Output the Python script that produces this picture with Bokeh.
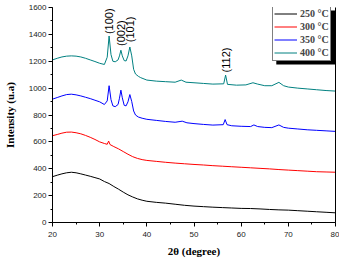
import math
from bokeh.plotting import figure
from bokeh.models import (Range1d, LinearAxis, SingleIntervalTicker, FixedTicker,
                          Legend, LegendItem, BoxAnnotation, ColumnDataSource)
from bokeh.core.properties import value
from bokeh.embed import file_html
from bokeh.resources import INLINE

# ---------------- data ----------------
x_250 = [20, 21, 22, 23, 24, 25, 26, 27, 28, 29, 30, 31, 32, 33, 34, 35, 36, 37, 38, 39,
         40, 42, 44, 46, 48, 50, 52, 54, 56, 58, 60, 62, 64, 66, 68, 70, 72, 74, 76, 78, 80]
y_250 = [341, 352, 362, 370, 374, 370, 362, 353, 344, 334, 324, 305, 290, 268, 248, 226, 206, 190, 176, 166,
         158, 150, 144, 136, 128, 122, 118, 114, 111, 108, 105, 104, 101, 97, 94, 92, 88, 84, 80, 76, 72]

x_300 = [20, 21, 22, 23, 24, 25, 26, 27, 28, 29, 30, 31, 31.6, 31.9, 32.2, 33, 34, 35, 36, 37, 38, 39,
         40, 42, 44, 46, 48, 50, 52, 54, 56, 58, 60, 62, 64, 66, 68, 70, 72, 74, 76, 78, 80]
y_300 = [646, 655, 665, 672, 673, 668, 660, 648, 634, 618, 600, 588, 582, 606, 580, 565, 548, 528, 508, 490, 477, 468,
         462, 455, 448, 442, 437, 432, 428, 423, 419, 415, 411, 407, 403, 399, 394, 390, 386, 382, 378, 376, 374]

x_350 = [20, 21, 22, 23, 24, 25, 26, 27, 28, 29, 30, 31, 31.6, 32.0, 32.4, 32.8, 33.3, 33.9, 34.2, 34.5, 34.8,
         35.2, 35.6, 36.0, 36.4, 36.8, 37.2, 37.6, 38.2, 39, 40, 42, 44, 46, 47.5, 48.5, 50, 52, 54, 56.2,
         56.6, 57.0, 58, 60, 62, 62.7, 63.5, 65, 66.5, 68, 69, 70, 72, 74, 76, 78, 80]
y_350 = [918, 930, 942, 952, 955, 950, 942, 932, 922, 910, 898, 878, 905, 1018, 915, 868, 862, 878, 925, 985, 928,
         872, 868, 898, 952, 900, 830, 800, 785, 776, 768, 760, 752, 746, 754, 742, 736, 730, 725, 728,
         766, 728, 720, 716, 714, 726, 714, 708, 706, 726, 708, 702, 696, 690, 686, 682, 678]

x_400 = [20, 21, 22, 23, 24, 25, 26, 27, 28, 29, 30, 31, 31.6, 32.0, 32.4, 32.8, 33.3, 33.9, 34.2, 34.5, 34.8,
         35.2, 35.6, 36.0, 36.4, 36.8, 37.2, 37.6, 38.2, 38.7, 40, 42, 44, 46, 47.3, 48.3, 50, 52, 54, 56.3,
         56.7, 57.1, 59, 61, 62.5, 63.5, 65, 66.5, 68, 69, 70, 72, 74, 76, 78, 80]
y_400 = [1210, 1222, 1232, 1238, 1240, 1238, 1232, 1222, 1210, 1198, 1185, 1176, 1230, 1388, 1250, 1200, 1196, 1210, 1240, 1282, 1240,
         1205, 1202, 1240, 1306, 1240, 1140, 1105, 1088, 1078, 1060, 1052, 1048, 1044, 1060, 1044, 1040, 1035, 1030, 1032,
         1097, 1028, 1022, 1024, 1040, 1030, 1018, 1018, 1043, 1018, 1008, 1000, 994, 988, 982, 978]

series_labels = ["250 °C", "300 °C", "350 °C", "400 °C"]
series_colors = ["#000000", "#ff0000", "#0000ff", "#008080"]

peak_labels = ["(100)", "(002)", "(101)", "(112)"]
peak_x = [32.0, 34.5, 36.5, 56.7]
peak_label_y = [1402, 1314, 1342, 1117]

x_ticks_interval = 10
y_ticks_interval = 200

# ---------------- figure ----------------
W, H = 339, 259
LEFT, RIGHT, TOP, BOTTOM = 52, 4, 7, 37

p = figure(width=W, height=H, output_backend="svg", toolbar_location=None,
           x_range=Range1d(20, 80), y_range=Range1d(0, 1600),
           min_border_left=LEFT, min_border_right=RIGHT,
           min_border_top=TOP, min_border_bottom=BOTTOM,
           x_axis_label="2θ (degree)", y_axis_label="Intensity (u.a)")
p.outline_line_color = None
p.xgrid.visible = False
p.ygrid.visible = False
p.background_fill_color = "white"
p.border_fill_color = "white"

p.xaxis.ticker = SingleIntervalTicker(interval=x_ticks_interval, num_minor_ticks=2)
p.yaxis.ticker = SingleIntervalTicker(interval=y_ticks_interval, num_minor_ticks=2)
for ax in (p.xaxis[0], p.yaxis[0]):
    ax.axis_line_color = "black"
    ax.major_tick_line_color = "black"
    ax.minor_tick_line_color = "black"
    ax.major_tick_in = 0
    ax.major_tick_out = 4
    ax.minor_tick_in = 0
    ax.minor_tick_out = 2
    ax.major_label_text_font = "Liberation Sans"
    ax.major_label_text_font_size = "8px"
    ax.major_label_text_color = "#222222"
    ax.axis_label_text_font = "Liberation Serif"
    ax.axis_label_text_font_style = "bold"
    ax.axis_label_text_font_size = "11px"
    ax.axis_label_text_color = "black"
p.xaxis.major_label_standoff = 5
p.yaxis.major_label_standoff = 2
p.xaxis.axis_label_standoff = 5
p.yaxis.axis_label_standoff = 10

right_axis = LinearAxis(ticker=FixedTicker(ticks=[]), major_label_text_font_size="0px",
                        major_tick_out=0, minor_tick_out=0, axis_line_color="black")
p.add_layout(right_axis, "right")

# legend shadow (decoration)
frame_w = W - LEFT - RIGHT - 1
frame_h = H - TOP - BOTTOM
leg_left_px, leg_w_px, leg_h_px = 220, 59, 54
ux = 60 / frame_w
uy = 1600 / frame_h
shadow = BoxAnnotation(left=20 + (leg_left_px + 3) * ux, right=20 + (leg_left_px + leg_w_px + 3) * ux,
                       top=1600 - 3 * uy, bottom=1600 - (leg_h_px + 3) * uy,
                       fill_color="black", fill_alpha=1.0, line_color=None, level="underlay")
p.add_layout(shadow)

renderers = []
for xs, ys, c in zip([x_250, x_300, x_350, x_400], [y_250, y_300, y_350, y_400], series_colors):
    r = p.line(xs, ys, line_color=c, line_width=1)
    renderers.append(r)

src = ColumnDataSource(dict(x=peak_x, y=peak_label_y, t=peak_labels))
p.text(x="x", y="y", text="t", source=src, angle=math.pi / 2,
       text_align="left", text_baseline="middle",
       text_font=value("Liberation Sans"), text_font_size="11px", text_color="black")

legend = Legend(items=[LegendItem(label=l, renderers=[r]) for l, r in zip(series_labels, renderers)],
                location=(leg_left_px, frame_h - leg_h_px),
                padding=1, spacing=0, margin=0,
                label_height=13, glyph_height=13, glyph_width=23, label_standoff=3,
                label_text_font="Liberation Serif", label_text_font_style="bold",
                label_text_font_size="10px",
                border_line_color="black", border_line_width=1,
                background_fill_color="white", background_fill_alpha=1.0)
p.add_layout(legend)

open("out.html", "w").write(file_html(p, INLINE))
